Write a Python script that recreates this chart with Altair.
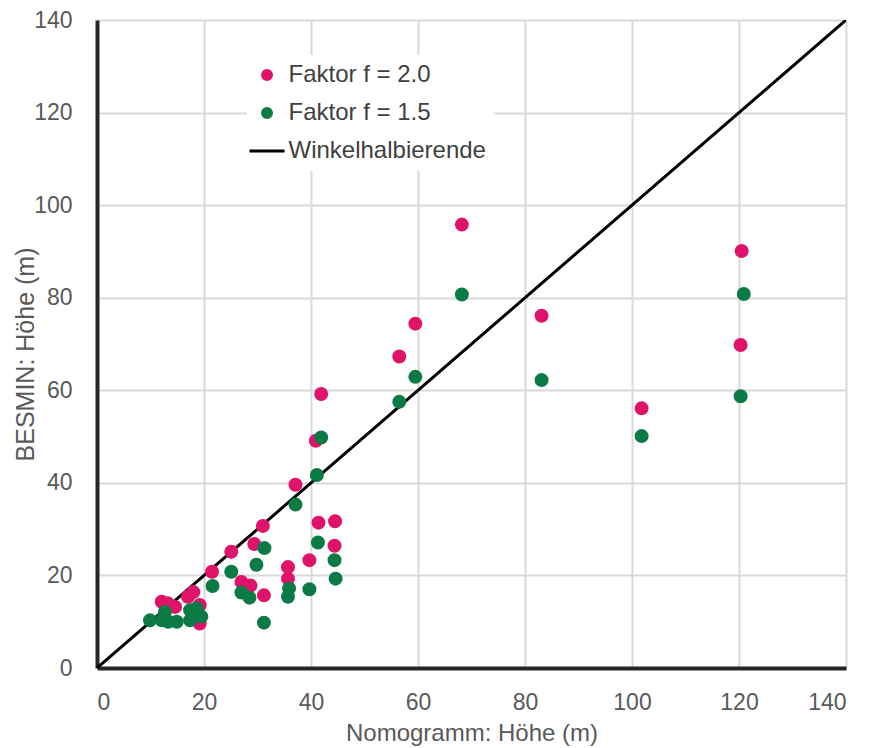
import altair as alt
import pandas as pd

# ---- data ----
f20_x = [120.5, 120.3, 101.8, 83.1, 68.2, 59.5, 56.5, 41.9, 40.9, 37.1,
         41.4, 44.5, 44.4, 39.7, 35.7, 35.7, 31.0, 29.4, 31.2, 25.1,
         27.0, 28.7, 21.5, 18.0, 17.0, 19.2, 12.1, 13.2, 14.6, 19.2]
f20_y = [90.1, 69.8, 56.1, 76.1, 95.8, 74.4, 67.3, 59.2, 49.1, 39.6,
         31.4, 31.7, 26.4, 23.3, 21.8, 19.3, 30.7, 26.8, 15.7, 25.1,
         18.6, 17.8, 20.8, 16.4, 15.4, 13.6, 14.3, 14.0, 13.2, 9.6]

f15_x = [120.9, 120.3, 101.8, 83.1, 68.2, 59.5, 56.5, 41.9, 41.1, 37.1,
         41.3, 44.4, 44.6, 39.7, 35.9, 35.7, 31.3, 29.8, 31.2, 25.1,
         27.0, 28.5, 21.6, 9.9, 12.1, 13.3, 14.9, 17.4, 19.5, 17.4,
         18.6, 12.7]
f15_y = [80.8, 58.7, 50.1, 62.2, 80.7, 62.9, 57.5, 49.8, 41.7, 35.3,
         27.1, 23.3, 19.3, 17.0, 17.2, 15.4, 25.9, 22.3, 9.8, 20.8,
         16.3, 15.2, 17.7, 10.3, 10.3, 10.0, 10.0, 10.3, 11.1, 12.5,
         12.9, 12.1]

diag = [0, 140]
ticks = [0, 20, 40, 60, 80, 100, 120, 140]

series_names = ["Faktor f = 2.0", "Faktor f = 1.5", "Winkelhalbierende"]
series_colors = ["#e0136b", "#0c7a45", "#000000"]
# legend symbols: dots for the two factors, a short horizontal line for the diagonal
series_shapes = ["circle", "circle", "M-3.9,0L3.9,0"]

pts = pd.DataFrame({
    "x": f20_x + f15_x,
    "y": f20_y + f15_y,
    "series": [series_names[0]] * len(f20_x) + [series_names[1]] * len(f15_x),
    "ord": list(range(len(f20_x) + len(f15_x))),
})
line_df = pd.DataFrame({"x": diag, "y": diag, "series": [series_names[2]] * 2})

FONT = "Liberation Sans"
GRAY = "#595959"

xscale = alt.Scale(domain=[0, 140], nice=False)
yscale = alt.Scale(domain=[0, 140], nice=False)

xaxis = alt.Axis(values=ticks, title="Nomogramm: Höhe (m)", grid=True, gridColor="#d9d9d9",
                 gridWidth=2, domainColor="#262626", domainWidth=4, ticks=False,
                 labelFont=FONT, labelFontSize=23, labelColor=GRAY, labelPadding=23,
                 titleFont=FONT, titleFontSize=24, titleFontWeight="normal", titleColor=GRAY,
                 titleY=53)
yaxis = alt.Axis(values=ticks, title="BESMIN: Höhe (m)", grid=True, gridColor="#d9d9d9",
                 gridWidth=2, domainColor="#262626", domainWidth=4, ticks=False,
                 labelFont=FONT, labelFontSize=23, labelColor=GRAY, labelPadding=25,
                 titleFont=FONT, titleFontSize=25, titleFontWeight="normal", titleColor=GRAY,
                 titleX=-59, titleY=334)


def make_legend():
    return alt.Legend(
        title=None, orient="none", legendX=150, legendY=35,
        fillColor="white", padding=8, labelOffset=9.5, labelLimit=400,
        symbolSize=81, symbolStrokeWidth=3, symbolOpacity=1,
        labelFont=FONT, labelFontSize=24, labelColor="#404040", rowPadding=14,
    )


fill_enc = alt.Fill("series:N", scale=alt.Scale(domain=series_names, range=series_colors),
                    legend=make_legend())
stroke_enc = alt.Stroke("series:N", scale=alt.Scale(domain=series_names, range=series_colors),
                        legend=make_legend())

line = alt.Chart(line_df).mark_line(strokeWidth=3, clip=True).encode(
    x=alt.X("x:Q", scale=xscale, axis=xaxis),
    y=alt.Y("y:Q", scale=yscale, axis=yaxis),
    fill=fill_enc,
    stroke=stroke_enc,
)

points = alt.Chart(pts).mark_point(filled=True, strokeWidth=3, size=121, opacity=1).encode(
    x=alt.X("x:Q", scale=xscale),
    y=alt.Y("y:Q", scale=yscale),
    fill=fill_enc,
    stroke=stroke_enc,
    shape=alt.Shape("series:N", scale=alt.Scale(domain=series_names, range=series_shapes),
                    legend=make_legend()),
    order=alt.Order("ord:Q"),
)

chart = alt.layer(line, points).properties(
    width=749, height=648,
    autosize=alt.AutoSizeParams(type="none"),
    padding={"left": 89, "top": 12, "right": 18, "bottom": 80},
).configure_view(stroke="#000000", strokeWidth=3).configure(background="white")

chart.save("out.html", embed_options={"renderer": "svg", "actions": False})
